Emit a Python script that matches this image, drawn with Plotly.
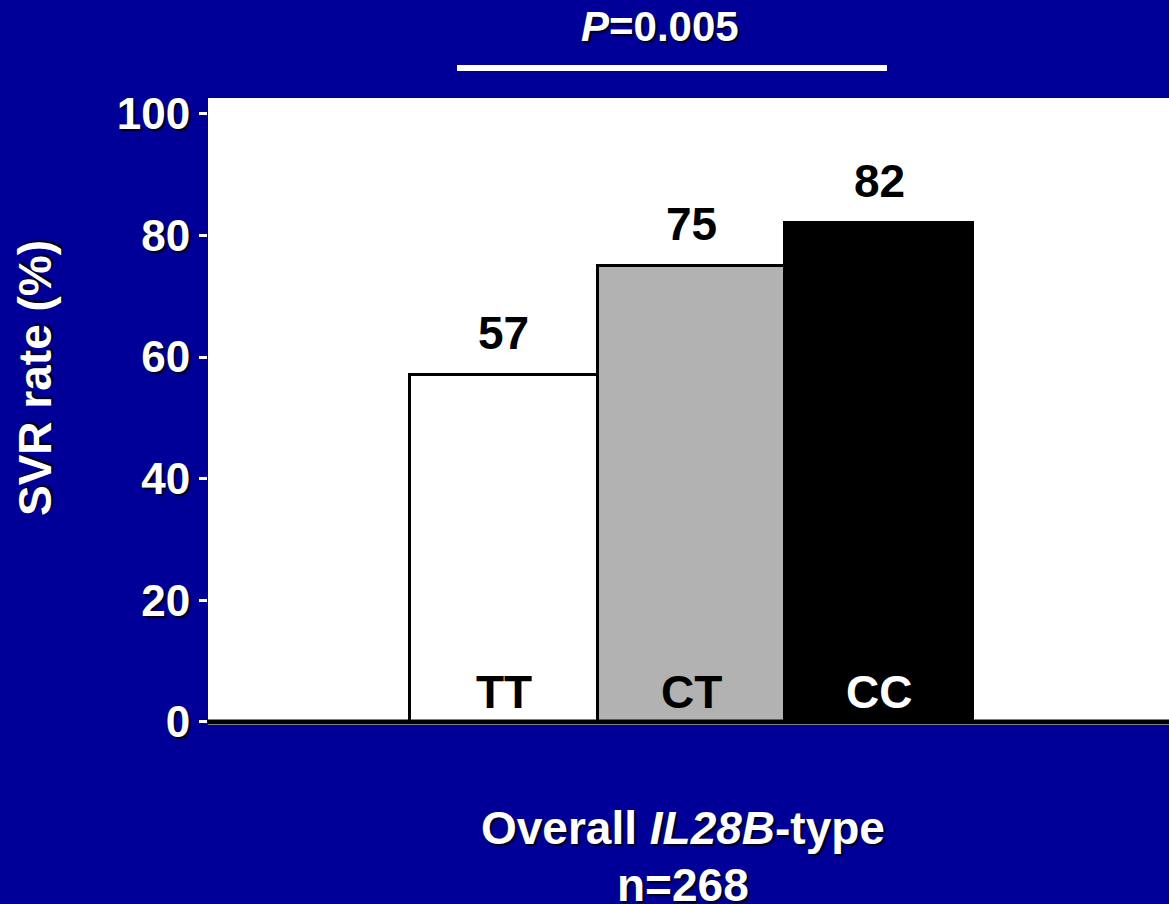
import plotly.graph_objects as go

genotypes = ["TT", "CT", "CC"]
svr_rates = [57, 75, 82]
bar_colors = ["#ffffff", "#b2b2b2", "#000000"]
label_colors = ["#000000", "#000000", "#ffffff"]
y_ticks = [0, 20, 40, 60, 80, 100]

FONT = "Liberation Sans, Arial, sans-serif"
BG = "#000099"
SHADOW = "2px 2px 2px rgba(0,0,0,0.85)"

W, H = 1169, 904
L, R, T, B = 208, 0, 98, 179
pw, ph = W - L - R, H - T - B

def px(x):
    return (x - L) / pw

def py(y):
    return (H - B - y) / ph

fig = go.Figure()
fig.add_trace(go.Bar(
    x=genotypes, y=svr_rates,
    marker=dict(color=bar_colors, line=dict(color="#000000", width=3)),
    width=1.0, showlegend=False, hoverinfo="skip",
))

annotations = []
for g, v in zip(genotypes, svr_rates):
    annotations.append(dict(
        x=g, y=v, xref="x", yref="y", text=f"<b>{v}</b>", showarrow=False,
        yanchor="bottom", yshift=14,
        font=dict(family=FONT, size=46, color="#000000"),
    ))
for g, c in zip(genotypes, label_colors):
    annotations.append(dict(
        x=g, y=0, xref="x", yref="y", text=f"<b>{g}</b>", showarrow=False,
        yanchor="bottom", yshift=2,
        font=dict(family=FONT, size=46, color=c),
    ))

annotations += [
    dict(x=px(660), y=py(27), xref="paper", yref="paper",
         text="<b><i>P</i>=0.005</b>", showarrow=False,
         xanchor="center", yanchor="middle",
         font=dict(family=FONT, size=42, color="#ffffff", shadow=SHADOW)),
    dict(x=px(683), y=py(828), xref="paper", yref="paper",
         text="<b>Overall <i>IL28B</i>-type</b>", showarrow=False,
         xanchor="center", yanchor="middle",
         font=dict(family=FONT, size=46, color="#ffffff", shadow=SHADOW)),
    dict(x=px(683), y=py(885), xref="paper", yref="paper",
         text="<b>n=268</b>", showarrow=False,
         xanchor="center", yanchor="middle",
         font=dict(family=FONT, size=46, color="#ffffff", shadow=SHADOW)),
    dict(x=px(35), y=py(378), xref="paper", yref="paper",
         text="<b>SVR rate (%)</b>", showarrow=False, textangle=-90,
         xanchor="center", yanchor="middle",
         font=dict(family=FONT, size=46, color="#ffffff", shadow=SHADOW)),
]

shapes = [
    dict(type="line", xref="paper", yref="paper",
         x0=px(457), x1=px(887), y0=py(68), y1=py(68),
         line=dict(color="#ffffff", width=6)),
    dict(type="line", xref="paper", yref="y",
         x0=0, x1=1, y0=0, y1=0, layer="above",
         line=dict(color="#000000", width=5)),
]

fig.update_layout(
    width=W, height=H,
    margin=dict(l=L, r=R, t=T, b=B, pad=0),
    paper_bgcolor=BG, plot_bgcolor="#ffffff",
    bargap=0,
    annotations=annotations, shapes=shapes,
    xaxis=dict(
        type="category", range=[-1.576, 3.544],
        showticklabels=False, ticks="", showgrid=False, showline=False,
        zeroline=False, fixedrange=True,
    ),
    yaxis=dict(
        range=[-0.5, 102.6], tickvals=y_ticks,
        ticktext=[f"<b>{t}</b>" for t in y_ticks],
        ticks="outside", ticklen=8, tickwidth=3, tickcolor="#ffffff",
        tickfont=dict(family=FONT, size=44, color="#ffffff", shadow=SHADOW),
        showgrid=False, showline=False, zeroline=False, fixedrange=True,
    ),
)

fig.write_html("out.html")
